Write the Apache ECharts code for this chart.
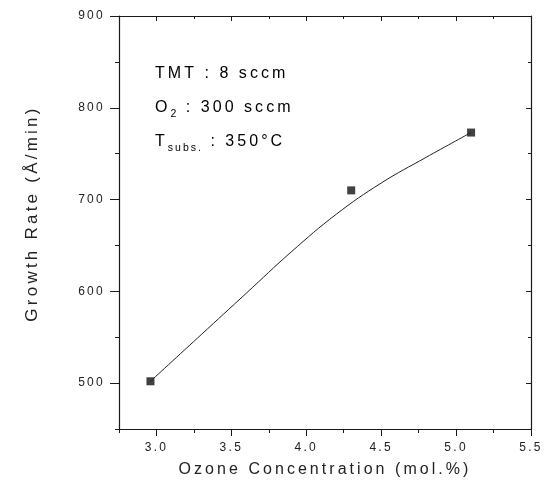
<!DOCTYPE html>
<html>
<head>
<meta charset="utf-8">
<script src="https://cdn.jsdelivr.net/npm/echarts@6/dist/echarts.min.js"></script>
<style>
  html, body { margin: 0; padding: 0; background: #fff; }
  #main { width: 547px; height: 492px; }
</style>
</head>
<body>
<div id="main"></div>
<script>
// puntos medidos
var ozone = [2.96, 4.30, 5.10];
var growth = [502, 710, 773];

// curva de ajuste
var fitX = [2.96, 3.30, 3.60, 3.90, 4.20, 4.50, 4.80, 5.10];
var fitY = [502, 553, 598, 643, 684, 718, 746, 773];

// ticks
var xTicks = [3.0, 3.5, 4.0, 4.5, 5.0, 5.5];
var xMinor = [2.75, 3.25, 3.75, 4.25, 4.75, 5.25];
var yTicks = [500, 600, 700, 800, 900];
var yMinor = [450, 550, 650, 750, 850];

// el texto original va con letras espaciadas
var SPACING = 0.19;
var proto = CanvasRenderingContext2D.prototype;
var oldFill = proto.fillText, oldMeasure = proto.measureText;
function espaciar(ctx) {
    var m = /(\d+(\.\d+)?)px/.exec(ctx.font);
    if ('letterSpacing' in ctx) ctx.letterSpacing = m ? (parseFloat(m[1]) * SPACING).toFixed(2) + 'px' : '0px';
}
proto.fillText = function () { espaciar(this); return oldFill.apply(this, arguments); };
proto.measureText = function () { espaciar(this); return oldMeasure.apply(this, arguments); };

var FONT = "'Liberation Sans', Arial, sans-serif";
var INK = '#1a1a1a';

var gridBox = { left: 119, top: 16, width: 412, height: 413 };

function ejeX(grid, pos, ticks, len, inside, line, labels) {
    return {
        type: 'value', gridIndex: grid, position: pos, min: 2.75, max: 5.5,
        axisLine: { show: line, lineStyle: { color: INK, width: 1.2 } },
        axisTick: { show: true, inside: inside, length: len, customValues: ticks, lineStyle: { color: INK, width: 1 } },
        axisLabel: labels ? {
            customValues: ticks, margin: 12, color: '#222', fontSize: 12, fontFamily: FONT,
            formatter: function (v) { return v.toFixed(1); }
        } : { show: false },
        splitLine: { show: false }
    };
}

function ejeY(grid, pos, ticks, len, inside, line, labels) {
    return {
        type: 'value', gridIndex: grid, position: pos, min: 450, max: 900,
        axisLine: { show: line, lineStyle: { color: INK, width: 1.2 } },
        axisTick: { show: true, inside: inside, length: len, customValues: ticks, lineStyle: { color: INK, width: 1 } },
        axisLabel: labels ? {
            customValues: ticks, margin: 14, color: '#222', fontSize: 12, fontFamily: FONT
        } : { show: false },
        splitLine: { show: false }
    };
}

var ejesX = [
    ejeX(0, 'bottom', xTicks, 7, false, true, true),
    ejeX(0, 'top', xTicks, 5, true, true, false),
    ejeX(1, 'bottom', xMinor, 4, false, false, false),
    ejeX(1, 'top', xMinor, 3, true, false, false)
];
ejesX[0].name = 'Ozone Concentration (mol.%)';
ejesX[0].nameLocation = 'middle';
ejesX[0].nameGap = 31;
ejesX[0].nameTextStyle = { fontSize: 16, color: '#222', fontFamily: FONT };

var ejesY = [
    ejeY(0, 'left', yTicks, 9, false, true, true),
    ejeY(0, 'right', yTicks, 5, true, true, false),
    ejeY(1, 'left', yMinor, 4, false, false, false),
    ejeY(1, 'right', yMinor, 3, true, false, false)
];
ejesY[0].name = 'Growth Rate (Å/min)';
ejesY[0].nameLocation = 'middle';
ejesY[0].nameGap = 77;
ejesY[0].nameTextStyle = { fontSize: 17, color: '#222', fontFamily: FONT, padding: [0, 0, 0, 18] };

var rich = {
    n: { fontSize: 16, fontFamily: FONT, color: '#222', lineHeight: 26 },
    s: { fontSize: 10.5, fontFamily: FONT, color: '#222', verticalAlign: 'bottom', lineHeight: 26 }
};

function nota(y, texto) {
    return {
        type: 'text', left: 155, top: y - 8, silent: true,
        style: { text: texto, rich: rich }
    };
}

var myChart = echarts.init(document.getElementById('main'), null, { renderer: 'canvas' });

var option = {
    animation: false,
    backgroundColor: '#fff',
    grid: [
        Object.assign({}, gridBox),
        Object.assign({}, gridBox)
    ],
    xAxis: ejesX,
    yAxis: ejesY,
    graphic: [
        nota(72, '{n|TMT : 8 sccm}'),
        nota(106, '{n|O}{s|2}{n| : 300 sccm}'),
        nota(140, '{n|T}{s|subs.}{n| : 350°C}')
    ],
    series: [
        {
            type: 'line', xAxisIndex: 0, yAxisIndex: 0,
            data: fitX.map(function (x, i) { return [x, fitY[i]]; }),
            smooth: 0.4, showSymbol: false,
            lineStyle: { color: '#222', width: 1 }
        },
        {
            type: 'scatter', xAxisIndex: 0, yAxisIndex: 0,
            data: ozone.map(function (x, i) { return [x, growth[i]]; }),
            symbol: 'rect', symbolSize: 8,
            itemStyle: { color: '#111' }
        }
    ]
};

myChart.setOption(option);
</script>
</body>
</html>
